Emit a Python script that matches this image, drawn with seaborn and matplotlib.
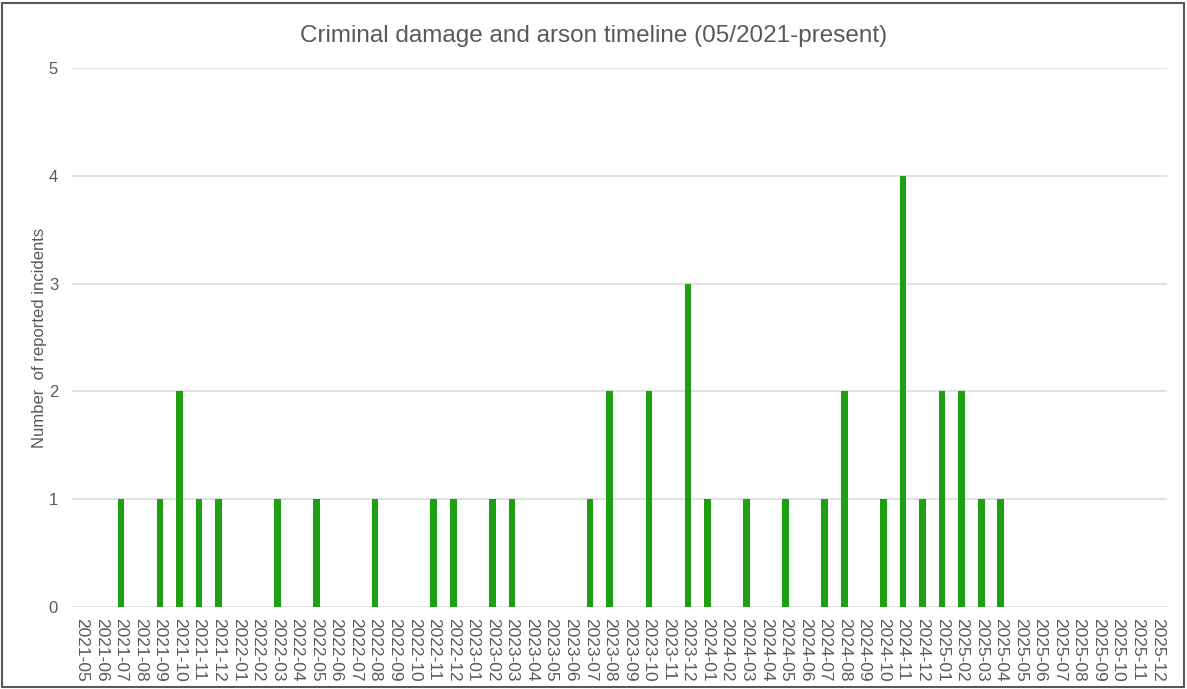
import matplotlib
matplotlib.use("Agg")
import matplotlib.pyplot as plt
import seaborn as sns
import pandas as pd
from matplotlib.patches import Rectangle

# Monthly reported incidents, May 2021 to December 2025
months = [
    "2021-05", "2021-06", "2021-07", "2021-08", "2021-09", "2021-10", "2021-11", "2021-12",
    "2022-01", "2022-02", "2022-03", "2022-04", "2022-05", "2022-06", "2022-07", "2022-08",
    "2022-09", "2022-10", "2022-11", "2022-12",
    "2023-01", "2023-02", "2023-03", "2023-04", "2023-05", "2023-06", "2023-07", "2023-08",
    "2023-09", "2023-10", "2023-11", "2023-12",
    "2024-01", "2024-02", "2024-03", "2024-04", "2024-05", "2024-06", "2024-07", "2024-08",
    "2024-09", "2024-10", "2024-11", "2024-12",
    "2025-01", "2025-02", "2025-03", "2025-04", "2025-05", "2025-06", "2025-07", "2025-08",
    "2025-09", "2025-10", "2025-11", "2025-12",
]
incidents = [
    0, 0, 1, 0, 1, 2, 1, 1,
    0, 0, 1, 0, 1, 0, 0, 1,
    0, 0, 1, 1,
    0, 1, 1, 0, 0, 0, 1, 2,
    0, 2, 0, 3,
    1, 0, 1, 0, 1, 0, 1, 2,
    0, 1, 4, 1,
    2, 2, 1, 1, 0, 0, 0, 0,
    0, 0, 0, 0,
]
y_ticks = [0, 1, 2, 3, 4, 5]

title = "Criminal damage and arson timeline (05/2021-present)"
y_label = "Number  of reported incidents"

TEXT = "#595959"
GRID = "#d9d9d9"
BAR = "#1fa012"

sns.set_theme(style="white")
plt.rcParams["font.family"] = ["Liberation Sans", "DejaVu Sans"]

df = pd.DataFrame({"month": months, "count": incidents})

fig = plt.figure(figsize=(11.87, 6.89), dpi=100)
ax = fig.add_axes([72 / 1187, 1 - 607 / 689, (1167 - 72) / 1187, (607 - 68) / 689])

sns.barplot(data=df, x="month", y="count", order=months, color=BAR,
            width=0.34, saturation=1, linewidth=0, ax=ax, zorder=3)

ax.set_ylim(0, 5)
ax.set_xlim(-0.5, len(months) - 0.5)
ax.set_yticks(y_ticks)
ax.set_yticklabels([str(v) for v in y_ticks], color=TEXT, fontsize=12)
ax.set_xticks(range(len(months)))
ax.set_xticklabels(months, rotation=-90, color=TEXT, fontsize=12.5)
ax.tick_params(axis="both", length=0, pad=8)
ax.tick_params(axis="y", pad=10)

for v in y_ticks:
    ax.axhline(v, color=GRID, lw=1.1, zorder=1)

for s in ax.spines.values():
    s.set_visible(False)

ax.set_xlabel("")
ax.set_ylabel(y_label, color=TEXT, fontsize=12, labelpad=1.5)
fig.text(0.5, 1 - 36 / 689, title, ha="center", va="center", color=TEXT, fontsize=17.5)

# outer frame around the chart area
fig.patches.append(Rectangle((2 / 1187, 2 / 689), 1 - 5 / 1187, 1 - 5 / 689,
                             transform=fig.transFigure, fill=False,
                             edgecolor="#595959", lw=1.5))

fig.savefig("out.png", dpi=100)
